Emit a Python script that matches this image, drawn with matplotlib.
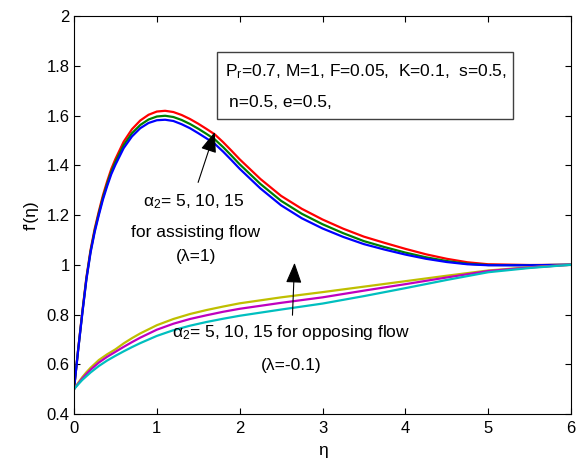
import matplotlib
matplotlib.use("Agg")
import matplotlib.pyplot as plt
from matplotlib.patches import Rectangle

plt.rcParams['font.family'] = ['Liberation Sans', 'DejaVu Sans']
plt.rcParams['mathtext.fontset'] = 'custom'
plt.rcParams['mathtext.rm'] = 'Liberation Sans'
plt.rcParams['mathtext.it'] = 'Liberation Sans'

# assisting flow (lambda = 1), alpha2 = 5, 10, 15
eta_a = [0, 0.05, 0.1, 0.15, 0.2, 0.25, 0.3, 0.35, 0.4, 0.45, 0.5, 0.6, 0.7, 0.8, 0.9,
         1.0, 1.1, 1.2, 1.3, 1.4, 1.5, 1.6, 1.7, 1.8, 1.9, 2.0, 2.25, 2.5, 2.75, 3.0,
         3.25, 3.5, 3.75, 4.0, 4.25, 4.5, 4.75, 5.0, 5.5, 6.0]
red = [0.5, 0.66, 0.81, 0.95, 1.06, 1.145, 1.215, 1.28, 1.335, 1.385, 1.425, 1.495,
       1.545, 1.58, 1.603, 1.616, 1.619, 1.614, 1.602, 1.586, 1.567, 1.546, 1.524, 1.493,
       1.459, 1.424, 1.345, 1.277, 1.225, 1.182, 1.145, 1.113, 1.088, 1.064, 1.042, 1.024,
       1.01, 1.002, 0.999, 1.0]
green = [0.5, 0.658, 0.806, 0.945, 1.054, 1.138, 1.207, 1.271, 1.325, 1.374, 1.413,
         1.481, 1.529, 1.562, 1.584, 1.596, 1.599, 1.594, 1.582, 1.566, 1.547, 1.526,
         1.504, 1.473, 1.439, 1.404, 1.325, 1.257, 1.205, 1.163, 1.127, 1.095, 1.071,
         1.049, 1.030, 1.015, 1.004, 0.999, 0.998, 1.0]
blue = [0.5, 0.656, 0.803, 0.941, 1.049, 1.132, 1.2, 1.263, 1.316, 1.364, 1.402, 1.469,
        1.516, 1.549, 1.57, 1.581, 1.583, 1.578, 1.565, 1.549, 1.529, 1.508, 1.486,
        1.455, 1.421, 1.386, 1.307, 1.239, 1.187, 1.146, 1.112, 1.083, 1.061, 1.041,
        1.024, 1.011, 1.002, 0.998, 0.998, 1.0]

# opposing flow (lambda = -0.1)
eta_o = [0, 0.05, 0.1, 0.15, 0.2, 0.3, 0.4, 0.5, 0.6, 0.7, 0.8, 1.0, 1.2, 1.4, 1.6,
         1.8, 2.0, 2.5, 3.0, 3.5, 4.0, 4.5, 5.0, 5.5, 6.0]
yellow = [0.5, 0.525, 0.548, 0.568, 0.586, 0.617, 0.64, 0.66, 0.684, 0.705, 0.724,
          0.757, 0.782, 0.802, 0.818, 0.832, 0.845, 0.869, 0.89, 0.912, 0.934, 0.956,
          0.977, 0.99, 1.0]
magenta = [0.5, 0.522, 0.543, 0.561, 0.578, 0.607, 0.63, 0.65, 0.67, 0.689, 0.707,
           0.739, 0.763, 0.782, 0.797, 0.811, 0.823, 0.847, 0.869, 0.896, 0.922, 0.949,
           0.975, 0.989, 1.0]
cyan = [0.5, 0.519, 0.537, 0.552, 0.567, 0.593, 0.615, 0.634, 0.652, 0.669, 0.685,
        0.714, 0.737, 0.755, 0.77, 0.783, 0.795, 0.82, 0.844, 0.874, 0.906, 0.939,
        0.97, 0.987, 1.0]

yticks = [0.4, 0.6, 0.8, 1.0, 1.2, 1.4, 1.6, 1.8, 2.0]
ytick_labels = ['0.4', '0.6', '0.8', '1', '1.2', '1.4', '1.6', '1.8', '2']

fig = plt.figure(figsize=(5.79, 4.59), dpi=100)
ax = fig.add_axes([0.1278, 0.098, 0.8584, 0.8671])

ax.plot(eta_a, red, c='r', lw=1.6)
ax.plot(eta_a, green, c=(0, 0.5, 0), lw=1.6)
ax.plot(eta_a, blue, c='b', lw=1.6)
ax.plot(eta_o, yellow, c=(0.75, 0.75, 0), lw=1.6)
ax.plot(eta_o, magenta, c=(0.75, 0, 0.75), lw=1.6)
ax.plot(eta_o, cyan, c=(0, 0.75, 0.75), lw=1.6)

ax.set_xlim(0, 6)
ax.set_ylim(0.4, 2)
ax.set_yticks(yticks)
ax.set_yticklabels(ytick_labels)
ax.tick_params(direction='in', length=4, labelsize=12, top=True, right=True)
ax.tick_params(axis='y', pad=3)
ax.tick_params(axis='x', pad=5)
ax.set_xlabel("η", fontsize=12.5, labelpad=5)
ax.set_ylabel("f'(η)", fontsize=12.5, labelpad=6)

fs = 12.5

# parameter box
ax.add_patch(Rectangle((1.726, 1.586), 5.30 - 1.726, 1.855 - 1.586, fill=False,
                       ec='#404040', lw=1))
ax.text(1.823, 1.759, r"$\mathregular{P_r}$=0.7, M=1, F=0.05,  K=0.1,  s=0.5,",
        fontsize=fs, va='baseline')
ax.text(1.871, 1.634, "n=0.5, e=0.5,", fontsize=fs, va='baseline')

# assisting flow labels
ax.annotate("", xy=(1.71, 1.5445), xytext=(1.488, 1.3206),
            arrowprops=dict(arrowstyle='-|>,head_length=0.9,head_width=0.35',
                            color='k', lw=0.8, mutation_scale=14))
ax.text(1.45, 1.236, r"$\mathregular{\alpha_2}$= 5, 10, 15", fontsize=fs,
        ha='center', va='baseline')
ax.text(1.469, 1.113, "for assisting flow", fontsize=fs, ha='center', va='baseline')
ax.text(1.469, 1.016, "(λ=1)", fontsize=fs, ha='center', va='baseline')

# opposing flow labels
ax.annotate("", xy=(2.664, 1.019), xytext=(2.636, 0.786),
            arrowprops=dict(arrowstyle='-|>,head_length=0.9,head_width=0.35',
                            color='k', lw=0.8, mutation_scale=14))
ax.text(2.616, 0.71, r"$\mathregular{\alpha_2}$= 5, 10, 15 for opposing flow",
        fontsize=fs, ha='center', va='baseline')
ax.text(2.616, 0.577, "(λ=-0.1)", fontsize=fs, ha='center', va='baseline')

fig.savefig("out.png", dpi=100)
